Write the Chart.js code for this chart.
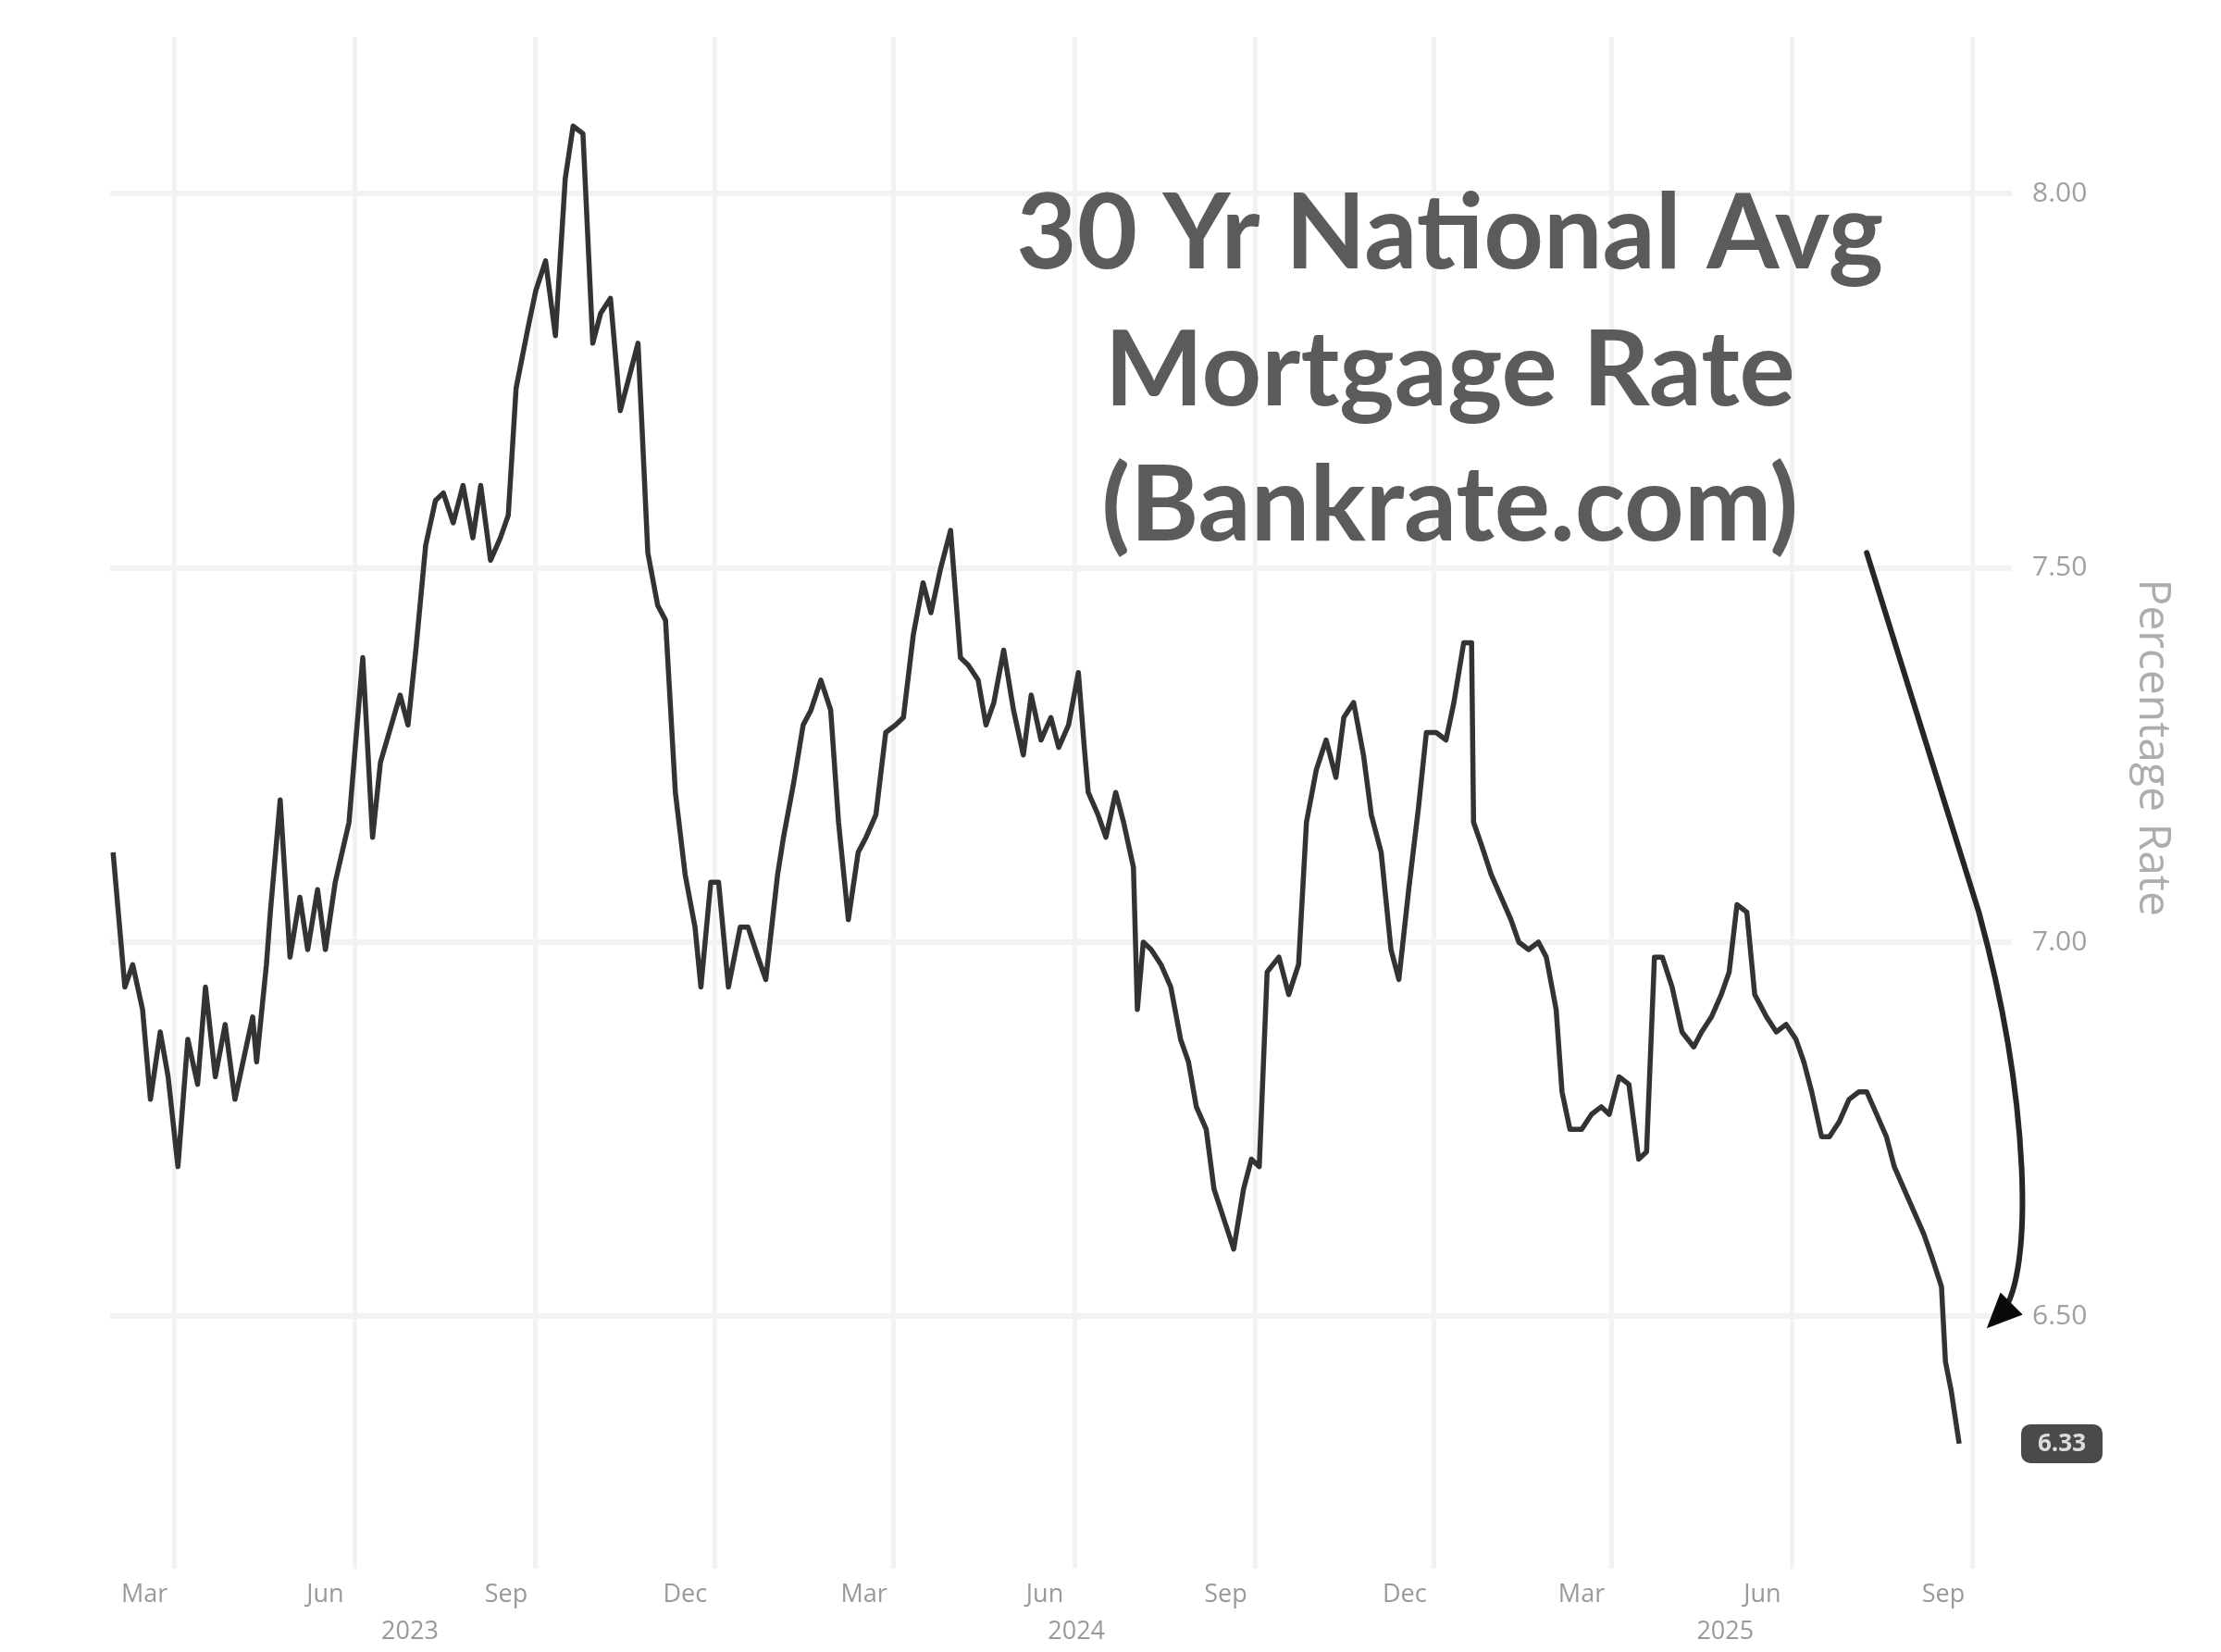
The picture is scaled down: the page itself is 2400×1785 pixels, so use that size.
<!DOCTYPE html>
<html>
<head>
<meta charset="utf-8">
<script src="https://cdn.jsdelivr.net/npm/chart.js@4.4.1/dist/chart.umd.min.js"></script>
<style>
  html, body { margin: 0; padding: 0; background: #fff; }
  canvas { display: block; }
</style>
</head>
<body>
<canvas id="grafico" width="2400" height="1785"></canvas>
<script>
// 30 yr national average mortgage rate
const dates = [
  '2023-01-29','2023-02-04','2023-02-08','2023-02-13','2023-02-17','2023-02-22','2023-02-26','2023-03-03',
  '2023-03-08','2023-03-13','2023-03-17','2023-03-22','2023-03-27','2023-04-01','2023-04-10','2023-04-12',
  '2023-04-17','2023-04-19','2023-04-24','2023-04-29','2023-05-04','2023-05-08','2023-05-13','2023-05-17',
  '2023-05-22','2023-05-29','2023-06-05','2023-06-10','2023-06-14','2023-06-24','2023-06-28','2023-07-02',
  '2023-07-07','2023-07-12','2023-07-16','2023-07-21','2023-07-26','2023-07-31','2023-08-04','2023-08-09',
  '2023-08-14','2023-08-18','2023-08-22','2023-08-28','2023-09-01','2023-09-06','2023-09-11','2023-09-16',
  '2023-09-20','2023-09-25','2023-09-30','2023-10-04','2023-10-09','2023-10-14','2023-10-19','2023-10-23',
  '2023-10-25','2023-10-28','2023-11-02','2023-11-06','2023-11-11','2023-11-16','2023-11-21','2023-11-24',
  '2023-11-29','2023-12-03','2023-12-08','2023-12-14','2023-12-18','2023-12-23','2023-12-27','2024-01-02',
  '2024-01-05','2024-01-10','2024-01-15','2024-01-19','2024-01-24','2024-01-29','2024-02-02','2024-02-07',
  '2024-02-12','2024-02-16','2024-02-21','2024-02-26','2024-03-02','2024-03-06','2024-03-11','2024-03-16',
  '2024-03-20','2024-03-25','2024-03-30','2024-04-04','2024-04-08','2024-04-13','2024-04-17','2024-04-21',
  '2024-04-26','2024-05-01','2024-05-06','2024-05-10','2024-05-15','2024-05-20','2024-05-24','2024-05-29',
  '2024-06-03','2024-06-06','2024-06-08','2024-06-13','2024-06-17','2024-06-22','2024-06-26','2024-07-01',
  '2024-07-03','2024-07-06','2024-07-10','2024-07-15','2024-07-20','2024-07-25','2024-07-29','2024-08-02',
  '2024-08-07','2024-08-11','2024-08-16','2024-08-21','2024-08-26','2024-08-30','2024-09-03','2024-09-07',
  '2024-09-13','2024-09-18','2024-09-23','2024-09-27','2024-10-02','2024-10-07','2024-10-12','2024-10-16',
  '2024-10-21','2024-10-26','2024-10-30','2024-11-04','2024-11-09','2024-11-13','2024-11-18','2024-11-23',
  '2024-11-27','2024-12-02','2024-12-07','2024-12-11','2024-12-16','2024-12-20','2024-12-21','2024-12-25',
  '2024-12-30','2025-01-04','2025-01-09','2025-01-13','2025-01-18','2025-01-23','2025-01-27','2025-02-01',
  '2025-02-04','2025-02-08','2025-02-14','2025-02-19','2025-02-24','2025-02-28','2025-03-05','2025-03-10',
  '2025-03-15','2025-03-19','2025-03-23','2025-03-27','2025-04-01','2025-04-06','2025-04-12','2025-04-16',
  '2025-04-21','2025-04-26','2025-04-30','2025-05-04','2025-05-09','2025-05-13','2025-05-19','2025-05-24',
  '2025-05-29','2025-06-03','2025-06-07','2025-06-11','2025-06-16','2025-06-20','2025-06-25','2025-06-30',
  '2025-07-05','2025-07-09','2025-07-14','2025-07-19','2025-07-23','2025-07-28','2025-08-02','2025-08-07',
  '2025-08-11','2025-08-16','2025-08-18','2025-08-21','2025-08-25'
];
const rates = [
  7.12, 6.94, 6.97, 6.91, 6.79, 6.88, 6.82, 6.70,
  6.87, 6.81, 6.94, 6.82, 6.89, 6.79, 6.90, 6.84,
  6.97, 7.04, 7.19, 6.98, 7.06, 6.99, 7.07, 6.99,
  7.08, 7.16, 7.38, 7.14, 7.24, 7.33, 7.29, 7.39,
  7.53, 7.59, 7.60, 7.56, 7.61, 7.54, 7.61, 7.51,
  7.54, 7.57, 7.74, 7.82, 7.87, 7.91, 7.81, 8.02,
  8.09, 8.08, 7.80, 7.84, 7.86, 7.71, 7.76, 7.80,
  7.69, 7.52, 7.45, 7.43, 7.20, 7.09, 7.02, 6.94,
  7.08, 7.08, 6.94, 7.02, 7.02, 6.98, 6.95, 7.09,
  7.14, 7.21, 7.29, 7.31, 7.35, 7.31, 7.16, 7.03,
  7.12, 7.14, 7.17, 7.28, 7.29, 7.30, 7.41, 7.48,
  7.44, 7.50, 7.55, 7.38, 7.37, 7.35, 7.29, 7.32,
  7.39, 7.31, 7.25, 7.33, 7.27, 7.30, 7.26, 7.29,
  7.36, 7.26, 7.20, 7.17, 7.14, 7.20, 7.16, 7.10,
  6.91, 7.00, 6.99, 6.97, 6.94, 6.87, 6.84, 6.78,
  6.75, 6.67, 6.63, 6.59, 6.67, 6.71, 6.70, 6.96,
  6.98, 6.93, 6.97, 7.16, 7.23, 7.27, 7.22, 7.30,
  7.32, 7.25, 7.17, 7.12, 6.99, 6.95, 7.07, 7.18,
  7.28, 7.28, 7.27, 7.32, 7.40, 7.40, 7.16, 7.13,
  7.09, 7.06, 7.03, 7.00, 6.99, 7.00, 6.98, 6.91,
  6.80, 6.75, 6.75, 6.77, 6.78, 6.77, 6.82, 6.81,
  6.71, 6.72, 6.98, 6.98, 6.94, 6.88, 6.86, 6.88,
  6.90, 6.93, 6.96, 7.05, 7.04, 6.93, 6.90, 6.88,
  6.89, 6.87, 6.84, 6.80, 6.74, 6.74, 6.76, 6.79,
  6.80, 6.80, 6.77, 6.74, 6.70, 6.67, 6.64, 6.61,
  6.58, 6.54, 6.44, 6.40, 6.33
];

// axis ticks
const monthTickDates = ['2023-03-01','2023-06-01','2023-09-01','2023-12-01','2024-03-01','2024-06-01',
                        '2024-09-01','2024-12-01','2025-03-01','2025-06-01','2025-09-01'];
const monthTickLabels = ['Mar','Jun','Sep','Dec','Mar','Jun','Sep','Dec','Mar','Jun','Sep'];
const yearTickDates = ['2023-06-29','2024-06-02','2025-04-28'];
const yearTickLabels = ['2023','2024','2025'];
const rateTicks = [6.5, 7.0, 7.5, 8.0];
const rateTitle = 'Percentage Rate';

// annotation: title text and the curved arrow, in data coordinates
const titleLines = ['30 Yr National Avg', 'Mortgage Rate', '(Bankrate.com)'];
const titleDate = '2024-12-09';
const titleBaselines = [7.90, 7.717, 7.537];
const arrowDates = ['2025-07-09', '2025-09-04', '2025-09-30', '2025-10-02', '2025-09-16', '2025-09-08'];
const arrowRates = [7.52, 7.04, 6.79, 6.56, 6.505, 6.484];

const day0 = Date.UTC(2023, 2, 1);
function dayNum(s) {
  const p = s.split('-').map(Number);
  return (Date.UTC(p[0], p[1] - 1, p[2]) - day0) / 864e5;
}

const points = dates.map((d, i) => ({ x: dayNum(d), y: rates[i] }));

Chart.defaults.font.family = "'Open Sans', 'DejaVu Sans', sans-serif";

const decor = {
  id: 'decor',
  afterDraw(chart) {
    const ctx = chart.ctx;
    const x = chart.scales.x;
    const y = chart.scales.y;
    const area = chart.chartArea;

    // big annotation title
    ctx.save();
    ctx.fillStyle = '#5b5b5b';
    ctx.textAlign = 'center';
    ctx.textBaseline = 'alphabetic';
    ctx.font = "bold 100px Lato, 'Open Sans', sans-serif";
    const w = ctx.measureText(titleLines[0]).width;
    const size = 100 * 937 / w;
    ctx.font = `bold ${size}px Lato, 'Open Sans', sans-serif`;
    const cx = x.getPixelForValue(dayNum(titleDate));
    titleLines.forEach((t, i) => {
      ctx.fillText(t, cx, y.getPixelForValue(titleBaselines[i]));
    });
    ctx.restore();

    // right axis title, rotated
    ctx.save();
    ctx.translate(area.right + 152, y.getPixelForValue(7.26));
    ctx.rotate(Math.PI / 2);
    ctx.fillStyle = '#adadad';
    ctx.font = "48px 'Open Sans', sans-serif";
    ctx.textAlign = 'center';
    ctx.textBaseline = 'middle';
    ctx.fillText(rateTitle, 0, 0);
    ctx.restore();

    // curved arrow
    const p = arrowDates.map((d, i) => [x.getPixelForValue(dayNum(d)), y.getPixelForValue(arrowRates[i])]);
    ctx.save();
    ctx.strokeStyle = '#262626';
    ctx.fillStyle = '#0a0a0a';
    ctx.lineWidth = 6;
    ctx.lineCap = 'round';
    ctx.beginPath();
    ctx.moveTo(p[0][0], p[0][1]);
    ctx.lineTo(p[1][0], p[1][1]);
    ctx.bezierCurveTo(p[2][0], p[2][1], p[3][0], p[3][1], p[4][0], p[4][1]);
    ctx.stroke();
    // arrow head
    const tip = p[5];
    const ang = Math.atan2(tip[1] - p[4][1], tip[0] - p[4][0]);
    const len = 38, half = 17;
    const bx = tip[0] - len * Math.cos(ang), by = tip[1] - len * Math.sin(ang);
    ctx.beginPath();
    ctx.moveTo(tip[0], tip[1]);
    ctx.lineTo(bx + half * Math.sin(ang), by - half * Math.cos(ang));
    ctx.lineTo(bx - half * Math.sin(ang), by + half * Math.cos(ang));
    ctx.closePath();
    ctx.fill();
    ctx.restore();

    // last value tag
    const last = rates[rates.length - 1];
    const ty = y.getPixelForValue(last);
    const tx = area.right + 10;
    ctx.save();
    ctx.fillStyle = '#4a4a4a';
    ctx.beginPath();
    ctx.roundRect(tx, ty - 21, 88, 42, 10);
    ctx.fill();
    ctx.fillStyle = '#dcdcdc';
    ctx.font = "bold 26px 'Open Sans', sans-serif";
    ctx.textAlign = 'center';
    ctx.textBaseline = 'middle';
    ctx.fillText(last.toFixed(2), tx + 44, ty + 1);
    ctx.restore();
  }
};

const ctx = document.getElementById('grafico').getContext('2d');

new Chart(ctx, {
  type: 'line',
  data: {
    datasets: [{
      label: 'Rate',
      data: points,
      borderColor: '#333333',
      borderWidth: 5.5,
      borderJoinStyle: 'round',
      pointRadius: 0,
      tension: 0,
      fill: false
    }]
  },
  options: {
    responsive: false,
    animation: false,
    devicePixelRatio: 1,
    layout: { padding: { left: 119, top: 38, right: 46, bottom: 2 } },
    plugins: { legend: { display: false }, tooltip: { enabled: false } },
    scales: {
      x: {
        type: 'linear',
        position: 'bottom',
        min: -32.5,
        max: 934.8,
        afterBuildTicks: (s) => { s.ticks = monthTickDates.map(d => ({ value: dayNum(d) })); },
        afterFit: (s) => { s.height = 50; },
        ticks: {
          autoSkip: false,
          maxRotation: 0,
          padding: 12,
          labelOffset: -32,
          color: '#999999',
          font: { size: 27 },
          callback: (v, i) => monthTickLabels[i]
        },
        grid: { color: '#f2f2f2', lineWidth: 5, drawTicks: false },
        border: { display: false }
      },
      x2: {
        type: 'linear',
        position: 'bottom',
        min: -32.5,
        max: 934.8,
        afterBuildTicks: (s) => { s.ticks = yearTickDates.map(d => ({ value: dayNum(d) })); },
        afterFit: (s) => { s.height = 38; },
        ticks: {
          autoSkip: false,
          maxRotation: 0,
          padding: 2,
          color: '#999999',
          font: { size: 27 },
          callback: (v, i) => yearTickLabels[i]
        },
        grid: { display: false, drawTicks: false },
        border: { display: false }
      },
      y: {
        type: 'linear',
        position: 'right',
        min: 6.163,
        max: 8.209,
        afterBuildTicks: (s) => { s.ticks = rateTicks.map(v => ({ value: v })); },
        afterFit: (s) => { s.width = 180; },
        ticks: {
          padding: 22,
          color: '#a0a0a0',
          font: { size: 30 },
          callback: (v) => Number(v).toFixed(2)
        },
        grid: { color: '#f2f2f2', lineWidth: 6, drawTicks: false },
        border: { display: false }
      }
    }
  },
  plugins: [decor]
});
</script>
</body>
</html>
